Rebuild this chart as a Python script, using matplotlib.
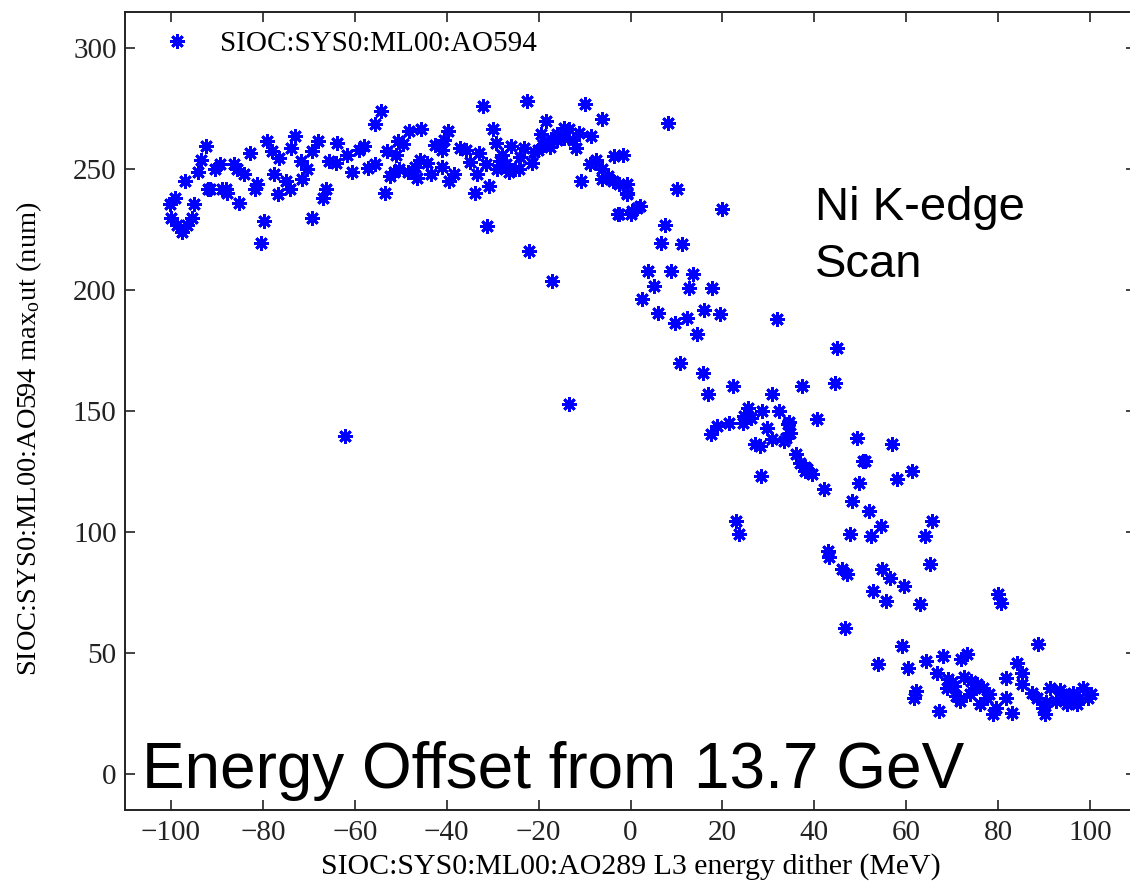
import matplotlib
matplotlib.use("Agg")
import matplotlib.pyplot as plt
import numpy as np

# ---- data (energy dither in MeV, max_out counts) ----
plateau_left_x = [-100.3, -99.2, -99.9, -98.6, -97.5, -96.4, -95.5, -97.0, -94.9, -94.2, -93.4, -92.3, -92.0,
                  -90.5, -89.4, -88.8, -87.7, -86.2, -85.7, -85.1, -84.0, -82.9, -81.8, -81.2, -79.7, -80.3,
                  -79.0, -78.1, -76.4, -77.5, -76.8, -74.9, -74.2, -73.1, -73.8, -71.6, -70.5, -71.4, -69.2,
                  -68.1, -69.4, -67.0, -66.2, -65.5, -64.0, -63.8, -61.6, -60.5, -59.0, -57.9, -57.2, -55.7,
                  -55.7, -54.2, -53.5, -52.4, -51.4, -50.7, -52.9, -62.2, -91.6, -88.0]
plateau_left_y = [235.5, 238, 230, 227, 224, 227, 230, 245, 235.5, 249, 254, 259.5, 242,
                  250, 252, 242, 240, 252, 250, 236, 248, 256.6, 242, 244, 228.5, 219.4,
                  261.6, 257.4, 254.5, 248, 239.7, 245, 241.7, 263.6, 258.7, 253.3, 250, 246, 229.8,
                  261.6, 257.4, 238, 242, 253.3, 252.5, 260.7, 256, 249, 258, 259.5, 250.4, 252,
                  268.6, 274, 240, 247, 249, 261.6, 257.4, 139.7, 241.7, 242]

plateau_mid_x = [-49.6, -48.1, -45.5, -50.3, -47.0, -45.9, -44.2, -42.6, -41.1, -39.8, -39.4, -38.3, -37.2,
                 -35.7, -35.0, -33.5, -32.9, -32.2, -33.9, -30.7, -31.3, -30.0, -29.2, -28.5, -27.0, -25.9,
                 -25.2, -24.2, -22.6, -23.1, -21.5, -22.0, -20.2, -19.4, -18.3, -17.2, -15.9, -14.4, -13.3,
                 -11.8, -11.1, -10.0, -10.7, -8.5, -8.9, -7.4, -6.1, -6.3, -5.0, -3.5, -1.7, -3.9, -2.4,
                 -0.7, -2.4, 0.2, 1.5, -17.0, -13.3, -51.0, -48.5, -46.5, -43.5, -41.0, -40.5, -31.5,
                 -29.0, -26.5, -28.0, -24.0, -21.0, -19.0, -17.5, -16.0, -14.5, -12.5]
plateau_mid_y = [260.3, 265.7, 266.5, 250, 251, 254, 252.5, 260, 258, 265.7, 245, 248, 258.7,
                 258, 253, 248, 256.6, 276, 240, 243, 226.4, 266.5, 260.7, 253.3, 252, 259.5,
                 250, 250, 278, 258.7, 252.5, 216, 258, 264.5, 270, 262.4, 264.5, 267, 266.5,
                 258.7, 265, 277, 245, 263.6, 252, 254, 270.7, 250, 247, 255.4, 256, 245, 244,
                 240, 231.4, 231.4, 234, 203.7, 152.9, 256, 249, 246.5, 248, 251, 262, 252,
                 250, 249, 256, 255, 257, 260, 259, 262, 263, 262]

edge_x = [8.1, -6.3, -0.7, -0.7, 2.0, 0.4, -2.8, 10.2, 20.0, 7.4, 6.7, 11.3, 3.7, 8.9, 13.5, 5.2, 12.8,
          17.8, 2.6, 5.9, 9.6, 12.2, 16.1, 19.4, 31.8, 14.4, 10.7, 15.7, 16.8, 22.2, 30.7, 37.4, 45.0,
          44.4, 25.5, 28.7, 32.4, 21.5, 18.9, 17.6, 24.4, 26.3, 29.6, 34.2, 34.6, 40.5, 30.7, 33.5,
          27.0, 28.1, 36.1, 36.8, 38.5, 39.6, 37.9, 28.5, 42.2, 49.2, 57.0, 50.5, 49.8, 48.3, 52.0,
          58.1, 61.2, 54.6, 52.4, 47.7, 23.0, 23.7, 42.9, 65.7, 64.0, 34.5, 33.8, 38.0, 24.8, 51.0, 43.3]
edge_y = [269, 246, 243.8, 239.7, 234.7, 232.6, 231.4, 241.7, 233.5, 227, 219.4, 219, 207.8, 207.8, 206.6,
          201.6, 200.8, 200.8, 196.3, 190.5, 186.4, 188.4, 191.7, 190, 188, 181.8, 169.8, 165.7, 157,
          160.3, 157, 160.3, 176, 161.6, 151.2, 150, 150, 145, 143.8, 140.5, 145, 147, 143, 144.6, 141,
          146.7, 138.4, 137.6, 136.4, 135.5, 132.2, 128.5, 126, 124, 125, 123, 117.8, 138.8, 136.4,
          129.3, 120.2, 112.8, 108.7, 121.9, 125.2, 102.5, 98.3, 99.2, 104.5, 99.2, 92.1, 104.5, 98.3,
          145.5, 139, 127, 148, 129.5, 89.5]

tail_x = [46.1, 47.2, 54.8, 56.4, 65.1, 52.7, 59.6, 55.7, 62.9, 46.6, 79.9, 80.7, 59.0, 88.6, 53.8, 60.3,
          64.4, 67.9, 72.0, 73.3, 66.6, 69.0, 70.5, 68.8, 74.2, 74.9, 76.6, 70.9, 73.8, 77.5, 76.0, 62.2,
          61.8, 67.2, 78.8, 81.8, 83.1, 81.8, 84.0, 85.1, 85.3, 87.3, 88.4, 89.7, 91.2, 92.7, 94.0, 95.5,
          96.2, 97.7, 98.4, 99.5, 97.1, 90.1, 94.9, 70.0, 72.5, 75.5, 71.8, 79.5, 78.0, 90.5, 93.5, 96.8,
          100.2]
tail_y = [84.7, 82.6, 84.7, 81, 86.8, 75.6, 77.7, 71.5, 70.2, 60.3, 74.4, 70.7, 52.9, 53.7, 45.5, 43.8,
          46.7, 48.8, 47.5, 49.6, 41.7, 39.3, 36.4, 35.5, 38.4, 35.5, 35.5, 32.2, 33, 31.4, 28.9, 34.3,
          31.4, 26, 24.8, 31.4, 25.2, 39.7, 45.9, 41.7, 37.2, 33.5, 31.4, 27.3, 35.5, 30.2, 33, 31.4,
          33.5, 31.4, 35.5, 31.4, 28.9, 24.8, 28.9, 38, 40, 37, 30, 27, 33, 29.5, 34.5, 30, 33]

x_ticks = [-100, -80, -60, -40, -20, 0, 20, 40, 60, 80, 100]
y_ticks = [0, 50, 100, 150, 200, 250, 300]

series_label = "SIOC:SYS0:ML00:AO594"
x_label = "SIOC:SYS0:ML00:AO289 L3 energy dither (MeV)"
y_label = "SIOC:SYS0:ML00:AO594 max$_\\mathrm{o}$ut (num)"

x_all = plateau_left_x + plateau_mid_x + edge_x + tail_x
y_all = plateau_left_y + plateau_mid_y + edge_y + tail_y

# ---- style ----
plt.rcParams["font.family"] = ["Liberation Serif", "DejaVu Serif"]
plt.rcParams["mathtext.fontset"] = "custom"
plt.rcParams["mathtext.rm"] = "Liberation Serif"
plt.rcParams["mathtext.it"] = "Liberation Serif:italic"

W, H = 1130, 881
fig = plt.figure(figsize=(W / 100, H / 100), dpi=100)
ax_left, ax_right, ax_top, ax_bot = 125, 1136, 12, 810
ax = fig.add_axes([ax_left / W, 1 - ax_bot / H, (ax_right - ax_left) / W, (ax_bot - ax_top) / H])

ax.plot(x_all, y_all, linestyle="none", marker=(8, 2, 0), markersize=10.5, markeredgewidth=2.0,
        color="#0000ff", label=series_label)

ax.set_xlim(-110, 110)
ax.set_ylim(-15, 315)
ax.set_xticks(x_ticks)
ax.set_yticks(y_ticks)
ax.tick_params(direction="in", length=7, width=1.2, top=True, right=True, labelsize=21, colors="#222222")
ax.tick_params(axis="x", pad=7)
ax.tick_params(axis="y", pad=6)
for sp in ax.spines.values():
    sp.set_linewidth(1.4)
    sp.set_color("#222222")

ax.set_xlabel(x_label, fontsize=21.5, labelpad=5)
ax.set_ylabel(y_label, fontsize=20.5)
ax.yaxis.set_label_coords(-0.08, 0.465)

ax.legend(loc="upper left", frameon=False, fontsize=21, numpoints=1, handlelength=2.3,
          handletextpad=0.3, borderaxespad=0.25, borderpad=0.4)

fig.text(815 / W, 1 - 220 / H, "Ni K-edge", fontsize=34, family="Liberation Sans", va="baseline")
fig.text(815 / W, 1 - 277 / H, "Scan", fontsize=34, family="Liberation Sans", va="baseline")
fig.text(142 / W, 1 - 788 / H, "Energy Offset from 13.7 GeV", fontsize=46, family="Liberation Sans",
         va="baseline")

fig.savefig("out.png", dpi=100)
